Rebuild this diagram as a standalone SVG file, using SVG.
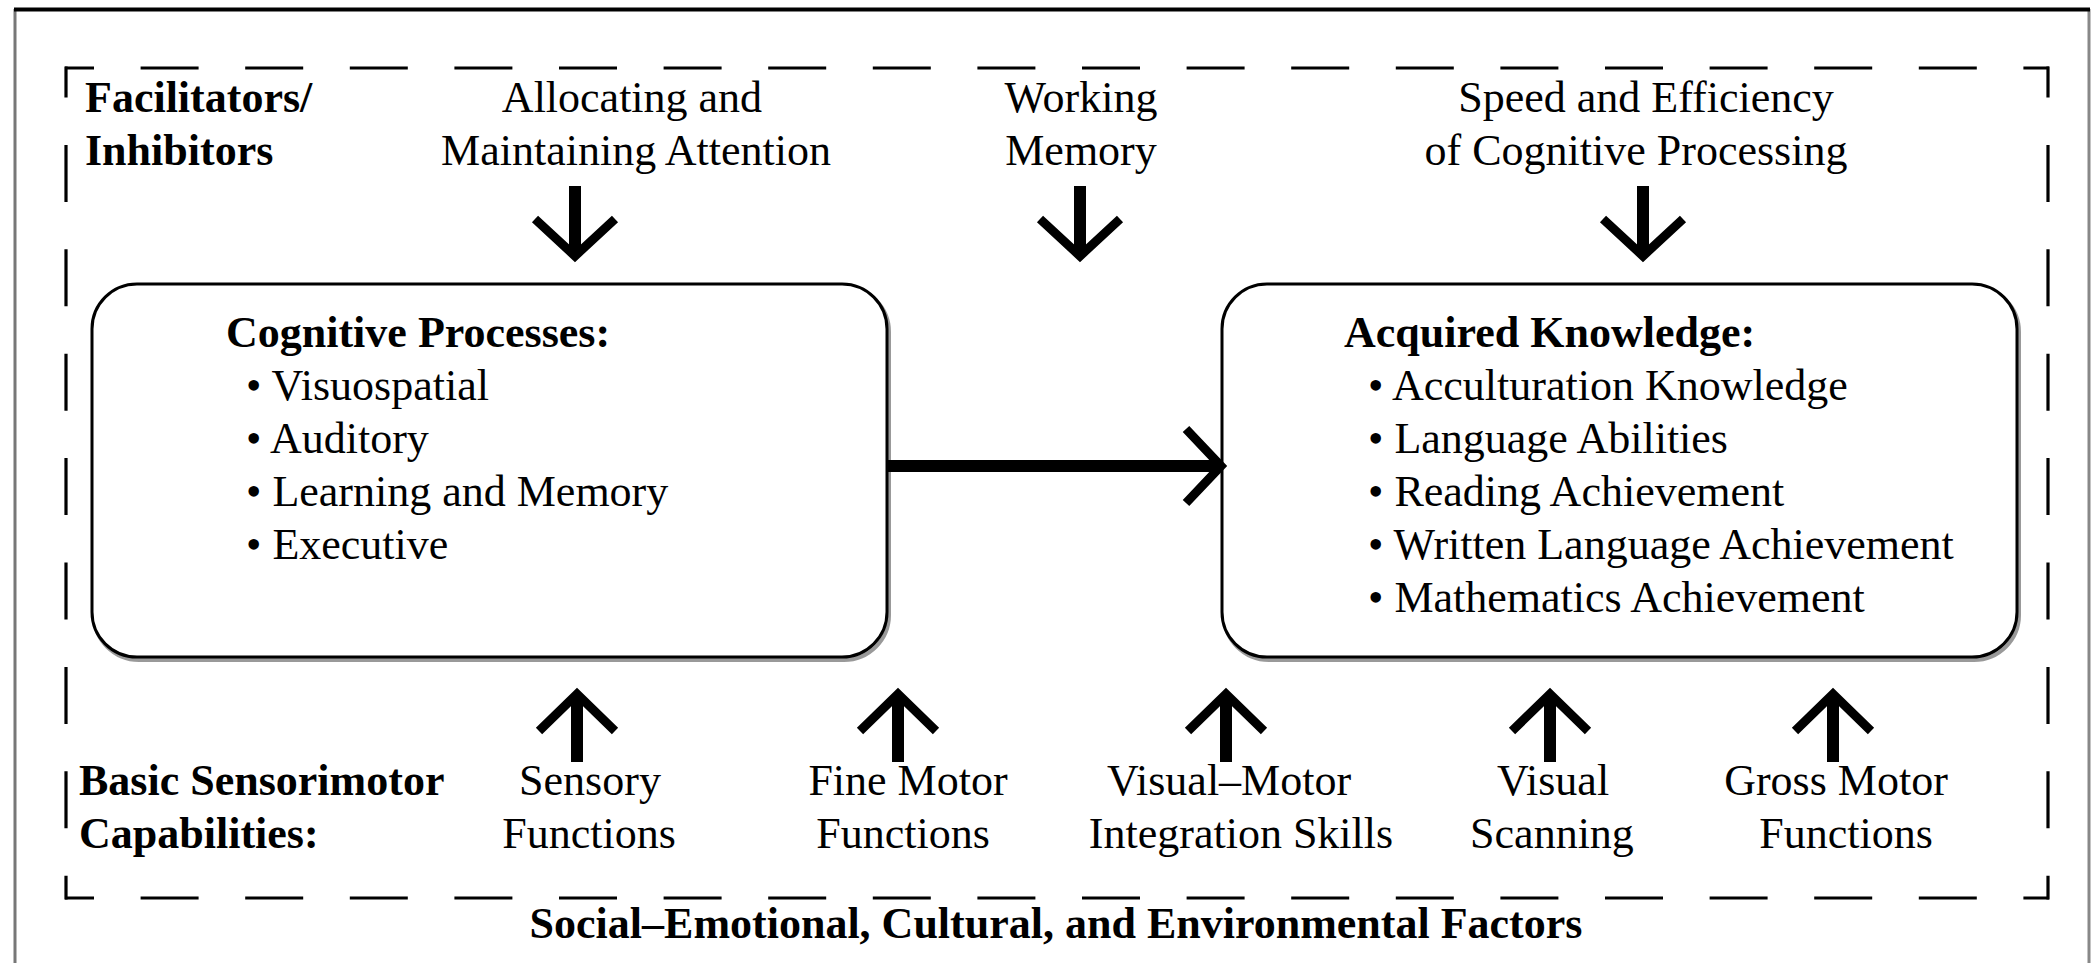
<svg xmlns="http://www.w3.org/2000/svg" width="2092" height="963" viewBox="0 0 2092 963">
<style>
  text { font-family: "Liberation Serif", "Times New Roman", serif; font-size: 44px; fill: #000; }
  .b { font-weight: bold; }
  .m { text-anchor: middle; }
  .dash { stroke: #000; stroke-width: 3.2; fill: none; }
  .box { fill: #fff; stroke: #000; stroke-width: 3; }
  .shadow { fill: none; stroke: #999; stroke-width: 4; }
  .shaft { fill: none; stroke: #000; stroke-width: 12; }
  .head { fill: none; stroke: #000; stroke-width: 9; stroke-linejoin: miter; stroke-miterlimit: 10; }
</style>
<rect x="0" y="0" width="2092" height="963" fill="#fff"/>
<g id="frame">
  <line x1="15" y1="9" x2="15" y2="963" stroke="#777" stroke-width="3"/>
  <line x1="2089" y1="9" x2="2089" y2="963" stroke="#888" stroke-width="3"/>
  <line x1="14" y1="9.5" x2="2090" y2="9.5" stroke="#000" stroke-width="4"/>
</g>
<g id="dashed-boundary">
  <line class="dash" x1="65" y1="68" x2="2049" y2="68" stroke-dasharray="58 46.6" stroke-dashoffset="29"/>
  <line class="dash" x1="65" y1="898" x2="2049" y2="898" stroke-dasharray="58 46.6" stroke-dashoffset="29"/>
  <line class="dash" x1="66" y1="66.5" x2="66" y2="899.5" stroke-dasharray="57 47.4" stroke-dashoffset="26"/>
  <line class="dash" x1="2048" y1="66.5" x2="2048" y2="899.5" stroke-dasharray="57 47.4" stroke-dashoffset="26"/>
</g>
<g id="facilitators-label">
  <text class="b" x="85" y="112">Facilitators/</text>
  <text class="b" x="85" y="165">Inhibitors</text>
</g>
<g id="attention">
  <text class="m" x="632" y="112">Allocating and</text>
  <text class="m" x="636" y="165">Maintaining Attention</text>
</g>
<g id="working-memory">
  <text class="m" x="1081" y="112">Working</text>
  <text class="m" x="1081" y="165">Memory</text>
</g>
<g id="speed">
  <text class="m" x="1646" y="112">Speed and Efficiency</text>
  <text class="m" x="1636" y="165">of Cognitive Processing</text>
</g>
<g id="cognitive-processes">
  <rect class="shadow" x="94" y="287" width="795" height="373" rx="45" ry="45"/>
  <rect class="box" x="92" y="284" width="795" height="373" rx="45" ry="45"/>
  <text class="b" x="226" y="347">Cognitive Processes:</text>
  <text x="246" y="400">• Visuospatial</text>
  <text x="246" y="453">• Auditory</text>
  <text x="246" y="506">• Learning and Memory</text>
  <text x="246" y="559">• Executive</text>
</g>
<g id="acquired-knowledge">
  <rect class="shadow" x="1224" y="287" width="795" height="373" rx="45" ry="45"/>
  <rect class="box" x="1222" y="284" width="795" height="373" rx="45" ry="45"/>
  <text class="b" x="1344" y="347">Acquired Knowledge:</text>
  <text x="1368" y="400">• Acculturation Knowledge</text>
  <text x="1368" y="453">• Language Abilities</text>
  <text x="1368" y="506">• Reading Achievement</text>
  <text x="1368" y="559">• Written Language Achievement</text>
  <text x="1368" y="612">• Mathematics Achievement</text>
</g>
<g id="sensorimotor-label">
  <text class="b" x="79" y="795">Basic Sensorimotor</text>
  <text class="b" x="79" y="848">Capabilities:</text>
</g>
<g id="sensory">
  <text class="m" x="590" y="795">Sensory</text>
  <text class="m" x="589" y="848">Functions</text>
</g>
<g id="fine-motor">
  <text class="m" x="908" y="795">Fine Motor</text>
  <text class="m" x="903" y="848">Functions</text>
</g>
<g id="visual-motor">
  <text class="m" x="1229" y="795">Visual–Motor</text>
  <text class="m" x="1241" y="848">Integration Skills</text>
</g>
<g id="visual-scanning">
  <text class="m" x="1553" y="795">Visual</text>
  <text class="m" x="1552" y="848">Scanning</text>
</g>
<g id="gross-motor">
  <text class="m" x="1836" y="795">Gross Motor</text>
  <text class="m" x="1846" y="848">Functions</text>
</g>
<g id="context-label">
  <text class="b m" x="1056" y="938">Social–Emotional, Cultural, and Environmental Factors</text>
</g>
<g id="connectors">
  <path class="shaft" d="M575 186 V250"/>
  <path class="head" d="M535 219 L575 256 L615 219"/>
  <path class="shaft" d="M1080 186 V250"/>
  <path class="head" d="M1040 219 L1080 256 L1120 219"/>
  <path class="shaft" d="M1643 186 V250"/>
  <path class="head" d="M1603 219 L1643 256 L1683 219"/>
  <path class="shaft" d="M887 466 H1216"/>
  <path class="head" d="M1186 429 L1221 466 L1186 503"/>
  <path class="shaft" d="M577 762 V700"/>
  <path class="head" d="M539 731 L577 694 L615 731"/>
  <path class="shaft" d="M898 762 V700"/>
  <path class="head" d="M860 731 L898 694 L936 731"/>
  <path class="shaft" d="M1226 762 V700"/>
  <path class="head" d="M1188 731 L1226 694 L1264 731"/>
  <path class="shaft" d="M1550 762 V700"/>
  <path class="head" d="M1512 731 L1550 694 L1588 731"/>
  <path class="shaft" d="M1833 762 V700"/>
  <path class="head" d="M1795 731 L1833 694 L1871 731"/>
</g>
</svg>
